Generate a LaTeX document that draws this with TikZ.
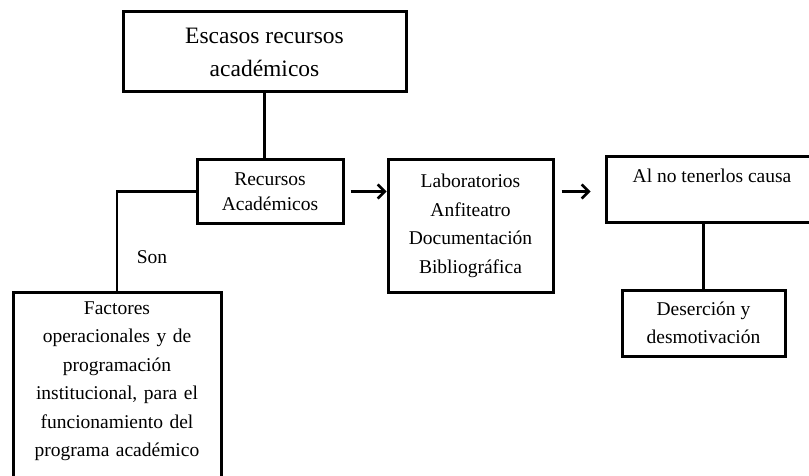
\documentclass[tikz,border=0pt]{standalone}
\usepackage{fontspec}
\setmainfont{Liberation Serif}
\usetikzlibrary{positioning,calc}
\usetikzlibrary{arrows.meta}
\tikzset{caja/.style={draw=black,line width=3pt,align=center,inner sep=3pt,font=\fontsize{19.5}{28.5}\selectfont}, enlace/.style={draw=black,line width=2.5pt},flecha/.style={draw=black,line width=2.5pt,-{Straight Barb[length=7pt,width=14pt,line width=2.5pt]}}}

\begin{document}
\begin{tikzpicture}[x=1pt,y=-1pt]
\useasboundingbox (0,0) rectangle (809,476);
\clip (0,0) rectangle (809,476);
\node[caja,minimum width=283pt,minimum height=80pt,font=\fontsize{23.5}{33}\selectfont] (escasos) at (264.5,52) {Escasos recursos\\académicos};
\node[caja,minimum width=146pt,minimum height=63pt,font=\fontsize{19.5}{25}\selectfont] (recursos) at (270,191.5) {Recursos\\Académicos};
\node[caja,anchor=north,text width=202pt,inner ysep=9pt] (factores) at (117,291) {Factores\\operacionales y de\\programación\\institucional, para el\\funcionamiento del\\programa académico\\[30pt]\mbox{}};
\node[caja,minimum width=165pt,minimum height=132pt] (laboratorios) at (470.5,226) {Laboratorios\\Anfiteatro\\Documentación\\Bibliográfica};
\node[caja,minimum width=212pt,minimum height=65pt] (causa) at (712,189.5) {Al no tenerlos causa\\\mbox{}};
\node[caja,minimum width=163pt,minimum height=66pt] (desercion) at (703.5,323) {Deserción y\\desmotivación};
\node[font=\fontsize{19.5}{28}\selectfont] (son) at (152,257) {Son};
\draw[enlace] (escasos.south) -- (escasos.south |- recursos.north);
\draw[enlace] (recursos.west) -| (factores.north);
\draw[enlace] (causa.south -| desercion.north) -- (desercion.north);
\draw[flecha] ([xshift=6pt]recursos.east) -- (recursos.east -| laboratorios.west);
\draw[flecha] ([xshift=7pt]laboratorios.east |- recursos.east) -- ([xshift=-14pt]causa.west |- recursos.east);
\end{tikzpicture}
\end{document}
